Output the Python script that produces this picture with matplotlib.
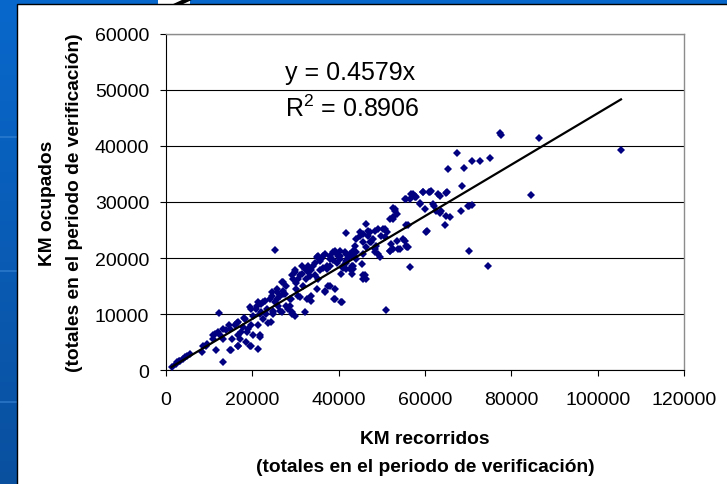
import numpy as np
import matplotlib
matplotlib.use("Agg")
import matplotlib.pyplot as plt
from matplotlib.patches import Rectangle
from matplotlib.colors import LinearSegmentedColormap

plt.rcParams["font.family"] = ["Liberation Sans", "DejaVu Sans"]
plt.rcParams["mathtext.fontset"] = "custom"
plt.rcParams["mathtext.rm"] = "Liberation Sans"
plt.rcParams["mathtext.it"] = "Liberation Sans"

# ── Data (km totals during the verification period) ─────────
km_recorridos = [
    1300, 2300, 2500, 3000, 3200, 4000, 4500, 4800, 5600, 8300,
    8600, 9300, 9400, 10800, 11000, 11300, 12000, 12500, 13300, 14000,
    14800, 14800, 16000, 16400, 16700, 16700, 17100, 17900, 18300, 18700,
    19400, 19400, 19800, 20200, 21000, 21400, 21800, 21400, 22100, 22500,
    23300, 23700, 24100, 24500, 24800, 25200, 25600, 26000, 26400, 26800,
    27200, 27500, 27900, 28300, 28700, 29100, 29500, 29900, 30200, 30600,
    31000, 31400, 31800, 32200, 32500, 32900, 33300, 33700, 34100, 34500,
    34900, 35200, 35600, 36400, 36800, 37200, 37600, 37900, 38700, 39100,
    39000, 40600, 39500, 39900, 40300, 40600, 41000, 41400, 41800, 42600,
    43000, 43300, 43700, 44100, 44900, 45700, 46400, 46800, 47200, 48000,
    48400, 48700, 45300, 45700, 46400, 46000, 43000, 43300, 12300, 13300,
    11600, 15000, 16600, 19700, 21800, 25200, 41600, 13100, 14700, 15400,
    16600, 18100, 20800, 22400, 23100, 24300, 24700, 25800, 27000, 27800,
    28900, 29300, 17400, 18900, 20100, 18500, 19800, 21400, 22100, 22900,
    24500, 25600, 26800, 29100, 29900, 30600, 31400, 32200, 32900, 33700,
    34500, 35300, 36000, 36800, 38000, 39100, 41000, 41800, 42600, 43400,
    44100, 31000, 32600, 33700, 34900, 36800, 38000, 39100, 40700, 28700,
    26400, 29900, 24800, 21800, 55700, 57200, 58000, 59600, 61100, 58800,
    59900, 62200, 53000, 52600, 53400, 50700, 51100, 44900, 47200, 48400,
    49900, 55700, 55900, 54900, 54200, 52200, 51800, 53400, 60500, 56500,
    39100, 40300, 38000, 41800, 43400, 44100, 45700, 45700, 46800, 47600,
    46400, 48400, 49100, 49500, 43400, 45700, 41800, 37200, 49100, 50300,
    50700, 51800, 52600, 53000, 52600, 52600, 53800, 55300, 55700, 56100,
    56100, 55300, 56800, 57600, 59500, 60900, 61900, 63000, 62600, 63400,
    64900, 64900, 65700, 68400, 68600, 70300, 71000, 64700, 60300, 50900,
    70100, 74600, 84500, 77300, 77600, 67300, 65300, 69000, 70900, 72700,
    75100, 86500, 105400, 65000, 61500, 63400, 57600, 56500, 63800, 69900,
    58800, 51800, 35600, 30200, 27200, 33300, 36400, 38700, 40300, 42200,
]
km_ocupados = [
    650, 1100, 1400, 1600, 1700, 2000, 2300, 2600, 2900, 3200,
    4400, 4300, 4700, 5600, 6200, 6500, 6800, 6200, 5600, 7100,
    7400, 3700, 8000, 8500, 6200, 4400, 5600, 7700, 9100, 6800,
    4400, 11200, 8000, 9700, 11500, 8000, 6200, 3800, 10300, 9100,
    10900, 8500, 12700, 13900, 10300, 12100, 14500, 11500, 13300, 10300,
    15700, 13600, 15100, 10900, 12700, 10000, 16300, 17800, 14500, 13300,
    16900, 18600, 15100, 10300, 16300, 17500, 18000, 13300, 18600, 16900,
    20100, 16300, 19500, 20400, 13900, 18000, 15100, 18600, 21000, 14500,
    12700, 12100, 19200, 20400, 19800, 17200, 18300, 21000, 19200, 20700,
    18600, 21300, 22200, 23400, 24600, 24300, 26100, 24900, 22800, 23400,
    21600, 22200, 18900, 16300, 16300, 16900, 17200, 18000, 10200, 1500,
    3700, 3600, 4300, 4300, 6000, 21500, 24400, 7400, 8000, 5600,
    8600, 9300, 10900, 12100, 10000, 8600, 10600, 12700, 13600, 11500,
    12700, 10300, 6800, 7400, 6200, 5000, 10900, 12100, 11800, 12400,
    13300, 13900, 15700, 16900, 17500, 16300, 17200, 18100, 18600, 17800,
    19200, 20400, 19800, 20700, 20400, 21000, 18600, 19500, 18100, 20400,
    21000, 13000, 12700, 12400, 14500, 14200, 15100, 12700, 12200, 11500,
    10600, 9700, 10000, 10000, 30500, 31400, 30800, 31700, 31800, 29600,
    28700, 29300, 28700, 27000, 27900, 25200, 24600, 24000, 24600, 24900,
    24000, 25800, 21900, 23400, 21600, 22500, 21300, 23100, 24900, 18400,
    21300, 20400, 19800, 20700, 20400, 19800, 20700, 22800, 24000, 22800,
    21900, 21000, 20700, 20100, 18600, 16900, 18100, 18600, 25200, 25200,
    23700, 27000, 27300, 28400, 29000, 21600, 21600, 23100, 22200, 21900,
    25800, 30500, 31400, 30800, 31700, 31800, 29600, 31400, 28400, 28100,
    31600, 27500, 27300, 28300, 32900, 29300, 29400, 25900, 24700, 10800,
    21300, 18600, 31300, 42200, 42000, 38700, 35900, 36000, 37300, 37300,
    37900, 41300, 39300, 31700, 32000, 31000, 31000, 30500, 28400, 29300,
    29800, 21300, 17900, 15600, 14100, 16800, 18300, 19600, 21300, 20000,
]
slope = 0.4579
r2 = 0.8906
x_ticks = [0, 20000, 40000, 60000, 80000, 100000, 120000]
y_ticks = [0, 10000, 20000, 30000, 40000, 50000, 60000]

W, H = 727, 485
fig = plt.figure(figsize=(W / 100, H / 100), dpi=100)

# ── slide background (pixel coords) ─────────────────────────
bg = fig.add_axes([0, 0, 1, 1])
bg.set_xlim(0, W); bg.set_ylim(H, 0); bg.axis("off")
cmap = LinearSegmentedColormap.from_list("slide", ["#0868cc", "#0a509f"])
bg.imshow(np.linspace(0, 1, 256).reshape(-1, 1), cmap=cmap,
          extent=[0, W, H, 0], aspect="auto", zorder=0)
for yy in (138, 272, 403):
    bg.plot([0, 17], [yy, yy], color="#3f8ad9", lw=1.2, alpha=0.6, zorder=1)
bg.add_patch(Rectangle((158, 0), 32, 6, fc="white", ec="none", zorder=1))
bg.plot([176, 189], [6, 0], color="black", lw=3, zorder=2)
bg.add_patch(Rectangle((17, 5), W, H, fc="white", ec="black", lw=1, zorder=3))

# ── scatter axes ────────────────────────────────────────────
ax = fig.add_axes([166 / W, 1 - 371.3 / H, 518 / W, 336.8 / H])
ax.patch.set_alpha(0)
ax.plot(km_recorridos, km_ocupados, "D", color="#000080", ms=3.9, mew=0, zorder=3)
xx = np.array([min(km_recorridos), max(km_recorridos)])
ax.plot(xx, slope * xx, color="black", lw=1.6, zorder=4)

ax.set_xlim(0, 120000); ax.set_ylim(0, 60000)
ax.set_xticks(x_ticks); ax.set_yticks(y_ticks)
ax.set_xticklabels([str(v) for v in x_ticks])
ax.set_yticklabels([str(v) for v in y_ticks])
ax.grid(axis="y", color="black", lw=0.8)
ax.set_axisbelow(True)
for s in ("top", "right"):
    ax.spines[s].set_color("#8c8c8c"); ax.spines[s].set_linewidth(1)
for s in ("left", "bottom"):
    ax.spines[s].set_color("black"); ax.spines[s].set_linewidth(0.8)
ax.tick_params(axis="x", direction="out", length=4, width=0.8, labelsize=14, pad=11)
ax.tick_params(axis="y", direction="out", length=4.3, width=0.8, labelsize=14, pad=7.7)

ax.text(0.2297, 0.865, f"y = {slope}x", transform=ax.transAxes,
        fontsize=18, va="baseline")
ax.text(0.2297, 0.755, r"$\mathrm{R}^2$" + f" = {r2}", transform=ax.transAxes,
        fontsize=18, va="baseline")

# ── axis titles ─────────────────────────────────────────────
kw = dict(fontsize=13.8, fontweight="bold", ha="center", va="baseline")
fig.text(425 / W, 1 - 444 / H, "KM recorridos", **kw)
fig.text(425 / W, 1 - 472 / H, "(totales en el periodo de verificación)", **kw)
fig.text(52 / W, 1 - 203 / H, "KM ocupados", rotation=90,
         rotation_mode="anchor", **kw)
fig.text(79.5 / W, 1 - 203 / H, "(totales en el periodo de verificación)",
         rotation=90, rotation_mode="anchor", **kw)

fig.savefig("out.png", dpi=100)
